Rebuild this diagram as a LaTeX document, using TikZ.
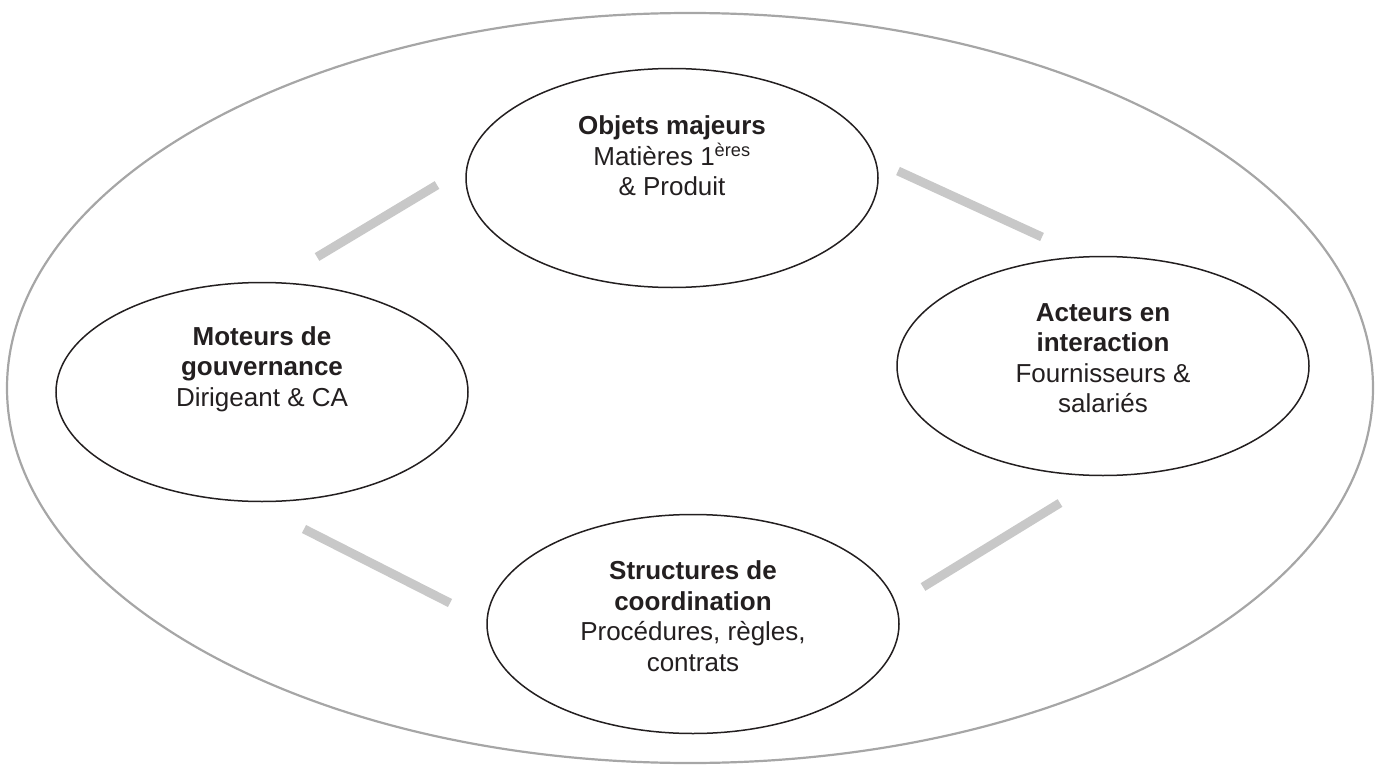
\documentclass[tikz,border=0pt]{standalone}
\usepackage{fontspec}
\setmainfont{Liberation Sans}
\usetikzlibrary{shapes.geometric}
\definecolor{outergray}{HTML}{A6A6A6}
\definecolor{bargray}{HTML}{C8C8C8}
\definecolor{ink}{HTML}{231F20}
\tikzset{
  ell/.style={draw=ink, line width=1.5pt, ellipse, inner sep=0pt, minimum width=412pt, minimum height=219pt},
  txt/.style={text=ink, align=center, font=\fontsize{26}{30.5}\selectfont, inner sep=0pt},
  bar/.style={draw=bargray, line width=9pt, line cap=butt},
}
\begin{document}
\begin{tikzpicture}[x=1pt,y=-1pt]
\useasboundingbox (0,0) rectangle (1381,765);
% outer ellipse
\draw[outergray, line width=2.2pt] (690,388) ellipse [x radius=683, y radius=375];
% inner ellipses
\node[ell] (obj) at (672,178) {};
\node[ell] (mot) at (262,392) {};
\node[ell] (act) at (1103,366) {};
\node[ell] (str) at (693,624) {};
% texts
\node[txt] (objT) at (672,156) {\textbf{Objets majeurs}\\Matières 1\textsuperscript{ères}\\\& Produit};
\node[txt] (motT) at (262,369) {\textbf{Moteurs de}\\\textbf{gouvernance}\\Dirigeant \& CA};
\node[txt] (actT) at (1103,358) {\textbf{Acteurs en}\\\textbf{interaction}\\Fournisseurs \&\\salariés};
\node[txt] (strT) at (693,616) {\textbf{Structures de}\\\textbf{coordination}\\Procédures, règles,\\contrats};
% gray bars
\coordinate (tl1) at (317,257); \coordinate (tl2) at (437,185);
\coordinate (tr1) at (898,171); \coordinate (tr2) at (1042,237);
\coordinate (bl1) at (304,529); \coordinate (bl2) at (450,603);
\coordinate (br1) at (923,587); \coordinate (br2) at (1060,503);
\draw[bar] (tl1) -- (tl2);
\draw[bar] (tr1) -- (tr2);
\draw[bar] (bl1) -- (bl2);
\draw[bar] (br1) -- (br2);
\end{tikzpicture}
\end{document}
